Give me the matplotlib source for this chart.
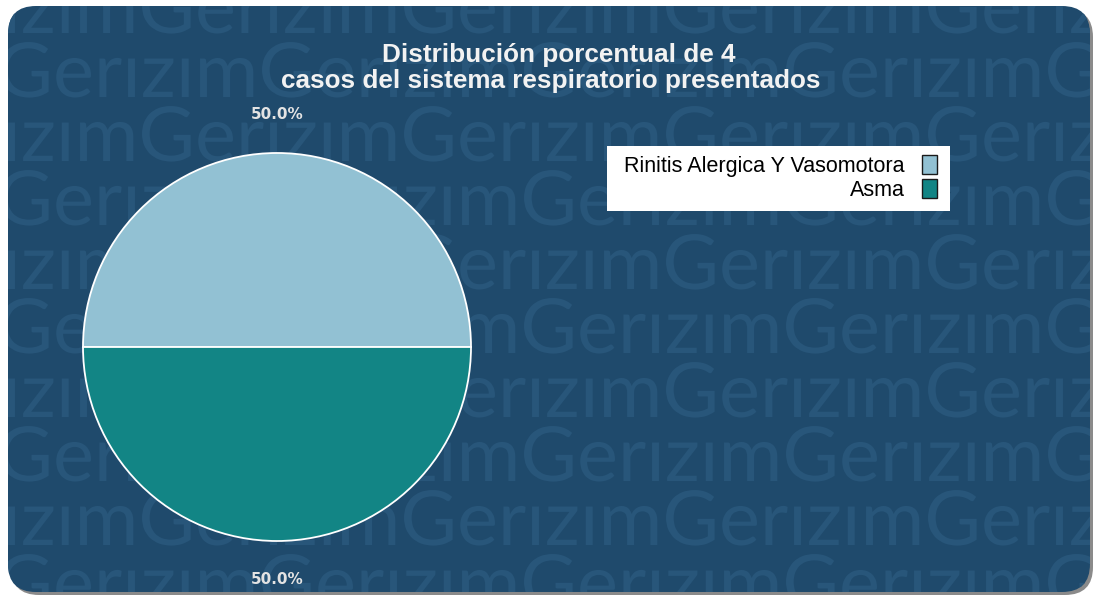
import matplotlib
matplotlib.use("Agg")
import matplotlib.pyplot as plt
from matplotlib.patches import FancyBboxPatch, PathPatch, Patch, Rectangle
from matplotlib.textpath import TextPath
from matplotlib.font_manager import FontProperties
from matplotlib.transforms import Affine2D

# ---- data ----
categories = ["Rinitis Alergica Y Vasomotora", "Asma"]
values = [2, 2]
colors = ["#92c1d3", "#128585"]
title_lines = ["Distribución porcentual de 4", "casos del sistema respiratorio presentados"]

W, H = 1094, 599
fig = plt.figure(figsize=(W / 100, H / 100), dpi=100)
fig.patch.set_facecolor("white")

px = Affine2D().scale(1.0 / W, 1.0 / H) + fig.transFigure  # pixel (origin bottom-left) -> display

def yy(y_img):
    return H - y_img

# panel + shadow
shadow = FancyBboxPatch((11, yy(595)), 1082, 586, boxstyle="round,pad=0,rounding_size=28",
                        transform=px, facecolor="#8a8a8a", edgecolor="none", zorder=0)
fig.patches.append(shadow)
panel = FancyBboxPatch((8, yy(592)), 1082, 586, boxstyle="round,pad=0,rounding_size=28",
                       transform=px, facecolor="#1f4a6c", edgecolor="none", zorder=0.5)
fig.patches.append(panel)

# watermark
wm_fp = FontProperties(family="Lato", weight="normal")
word = "Gerızım"
one = TextPath((0, 0), word, size=1, prop=wm_fp)
two = TextPath((0, 0), word * 2, size=1, prop=wm_fp)
period = two.get_extents().x1 - one.get_extents().x1
gext = TextPath((0, 0), "G", size=1, prop=wm_fp).get_extents()
target_period = 262.0
sx = target_period / period
sy = 55.0 / gext.y1
gx0 = gext.x0 * sx
long_path = TextPath((0, 0), word * 7, size=1, prop=wm_fp)
for k in range(10):
    base = 33 + 64 * k
    phase = 142 if k % 2 == 0 else 0
    x0 = phase - target_period - gx0
    tr = Affine2D().scale(sx, sy).translate(x0, yy(base)) + px
    pp = PathPatch(long_path, transform=tr, facecolor="#28567a", edgecolor="none", zorder=1)
    fig.patches.append(pp)
    pp.set_clip_path(panel)

# legend frame (white box)
fig.patches.append(Rectangle((607, yy(211)), 343, 65, transform=px, facecolor="white",
                             edgecolor="none", zorder=2))

# pie
cx, cy, R = 277, 347, 194
ax = fig.add_axes([(cx - 200) / W, (H - cy - 200) / H, 400 / W, 400 / H])
ax.set_zorder(5)
ax.axis("off")
ax.patch.set_alpha(0)
wedges, texts, autotexts = ax.pie(
    values, colors=colors, startangle=0, counterclock=True, radius=R / 200,
    autopct="%1.1f%%", pctdistance=1.2,
    wedgeprops=dict(edgecolor="white", linewidth=1.3),
    textprops=dict(color="#e3e3e3", fontsize=11, fontweight="bold", family="DejaVu Sans"),
)
ax.set_xlim(-1, 1)
ax.set_ylim(-1, 1)

# title
fig.text(559 / W, yy(62) / H, title_lines[0], ha="center", va="baseline", fontsize=18.85,
         fontweight="bold", color="#f2f2f2", family="Liberation Sans", zorder=6)
fig.text(550.5 / W, yy(88) / H, title_lines[1], ha="center", va="baseline", fontsize=18.85,
         fontweight="bold", color="#f2f2f2", family="Liberation Sans", zorder=6)

# legend
handles = [Patch(facecolor=c, edgecolor="#1a1a1a", linewidth=1.0) for c in colors]
leg = ax.legend(handles, categories, loc="upper right", bbox_to_anchor=(937 / W, yy(155) / H),
                bbox_transform=fig.transFigure, markerfirst=False, frameon=False,
                prop=FontProperties(family="Liberation Sans", size=15.5),
                handlelength=0.7, handleheight=0.98, handletextpad=0.79, labelspacing=0.12,
                borderpad=0, borderaxespad=0)

fig.savefig("out.png", dpi=100, facecolor="white")
